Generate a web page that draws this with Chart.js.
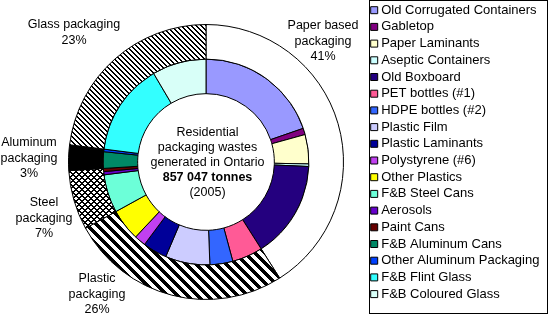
<!DOCTYPE html>
<html>
<head>
<meta charset="utf-8">
<script src="https://cdn.jsdelivr.net/npm/chart.js@4.4.0/dist/chart.umd.min.js"></script>
<style>
  html, body { margin: 0; padding: 0; background: #fff; }
</style>
</head>
<body>
<canvas id="packChart" width="548" height="314"></canvas>
<script>
// outer ring: packaging groups (%)
const groupLabels = ["Paper based packaging", "Plastic packaging", "Steel packaging", "Aluminum packaging", "Glass packaging"];
const groupShares = [41, 26, 7, 3, 23];

// inner ring: material categories (% of total)
const itemLabels = [
    "Old Corrugated Containers", "Gabletop", "Paper Laminants", "Aseptic Containers", "Old Boxboard",
    "PET bottles (#1)", "HDPE bottles (#2)", "Plastic Film", "Plastic Laminants", "Polystyrene (#6)", "Other Plastics",
    "F&B Steel Cans", "Aerosols", "Paint Cans",
    "F&B Aluminum Cans", "Other Aluminum Packaging",
    "F&B Flint Glass", "F&B Coloured Glass"
];
const itemShares = [19.7, 1.0, 4.6, 0.4, 15.3, 4.8, 3.6, 7.0, 3.8, 1.8, 5.0, 6.0, 0.5, 0.5, 2.6, 0.4, 14.5, 8.5];
const itemColors = [
    "#9999FF", "#800080", "#FFFFCC", "#CCFFFF", "#24007F",
    "#FF5A96", "#3366FF", "#CCCCFF", "#000099", "#C040F0", "#FFFF00",
    "#6CFFD8", "#6600CC", "#660000",
    "#008866", "#0040FF",
    "#33FFFF", "#D8FFF8"
];

const FONT = '"Liberation Sans", Arial, sans-serif';

// little pixel tiles, like the old spreadsheet fill patterns
function makePattern(size, ink) {
    const c = document.createElement("canvas");
    c.width = c.height = size;
    const g = c.getContext("2d");
    g.fillStyle = "#fff";
    g.fillRect(0, 0, size, size);
    g.fillStyle = "#000";
    for (let y = 0; y < size; y++) {
        for (let x = 0; x < size; x++) {
            if (ink(x, y)) g.fillRect(x, y, 1, 1);
        }
    }
    return g.createPattern(c, "repeat");
}

const mod = (a, n) => ((a % n) + n) % n;
const groupFills = [
    "#FFFFFF",
    makePattern(10, (x, y) => mod(x - y, 10) < 5),                        // wide diagonal
    makePattern(6, (x, y) => mod(x - y, 6) < 2 || mod(x + y, 6) < 2),     // trellis
    "#000000",
    makePattern(5, (x, y) => mod(x - y, 5) < 2)                            // thin diagonal
];

const ringLabels = {
    id: "ringLabels",
    afterDatasetsDraw(chart) {
        const ctx = chart.ctx;
        const arc = chart.getDatasetMeta(0).data[0];
        const cx = arc.x, cy = arc.y;
        ctx.save();
        ctx.fillStyle = "#000";
        ctx.textAlign = "center";
        ctx.textBaseline = "middle";
        ctx.font = "12.5px " + FONT;

        const blocks = [
            [["Paper based", "packaging", groupShares[0] + "%"], 117, -136],
            [["Plastic", "packaging", groupShares[1] + "%"], -109, 117],
            [["Steel", "packaging", groupShares[2] + "%"], -162, 41],
            [["Aluminum", "packaging", groupShares[3] + "%"], -177, -19],
            [["Glass packaging", groupShares[4] + "%"], -132, -137]
        ];
        blocks.forEach(([lines, dx, dy]) => {
            lines.forEach((t, k) => ctx.fillText(t, cx + dx, cy + dy + k * 15.5));
        });

        // centre caption
        const mid = ["Residential", "packaging wastes", "generated in Ontario", "857 047 tonnes", "(2005)"];
        mid.forEach((t, k) => {
            ctx.font = (k === 3 ? "bold " : "") + "12.5px " + FONT;
            ctx.fillText(t, cx + 1.5, cy - 29.5 + k * 15);
        });
        ctx.restore();
    }
};

const legendFrame = {
    id: "legendFrame",
    afterDraw(chart) {
        const L = chart.legend;
        const ctx = chart.ctx;
        ctx.save();
        ctx.strokeStyle = "#000";
        ctx.lineWidth = 1;
        ctx.strokeRect(Math.round(L.left) - 0.5, 0.5, chart.width - Math.round(L.left), chart.height - 1);
        ctx.restore();
    }
};

new Chart(document.getElementById("packChart"), {
    type: "doughnut",
    data: {
        labels: itemLabels,
        datasets: [{
            label: "Packaging type",
            data: groupShares,
            backgroundColor: groupFills,
            borderColor: "#000",
            borderWidth: 1
        }, {
            label: "Material",
            data: itemShares,
            backgroundColor: itemColors,
            borderColor: "#000",
            borderWidth: 1
        }]
    },
    options: {
        responsive: false,
        animation: false,
        radius: 137.5,
        cutout: "49.7%",
        layout: { padding: { left: 42 } },
        plugins: {
            tooltip: { enabled: false },
            title: {
                display: true,
                text: "",
                fullSize: false,
                padding: { top: 9, bottom: 0 },
                font: { size: 1, lineHeight: 1 }
            },
            legend: {
                position: "right",
                align: "start",
                maxWidth: 178,
                labels: {
                    font: { family: FONT, size: 13 },
                    color: "#000",
                    usePointStyle: true,
                    boxWidth: 1,
                    boxHeight: 7,
                    padding: 3.7,
                    generateLabels: () => itemLabels.map((t, i) => ({
                        text: t,
                        fillStyle: itemColors[i],
                        strokeStyle: "#000",
                        lineWidth: 1,
                        pointStyle: "rect",
                        hidden: false,
                        index: i,
                        datasetIndex: 1
                    }))
                }
            }
        }
    },
    plugins: [ringLabels, legendFrame]
});
</script>
</body>
</html>
